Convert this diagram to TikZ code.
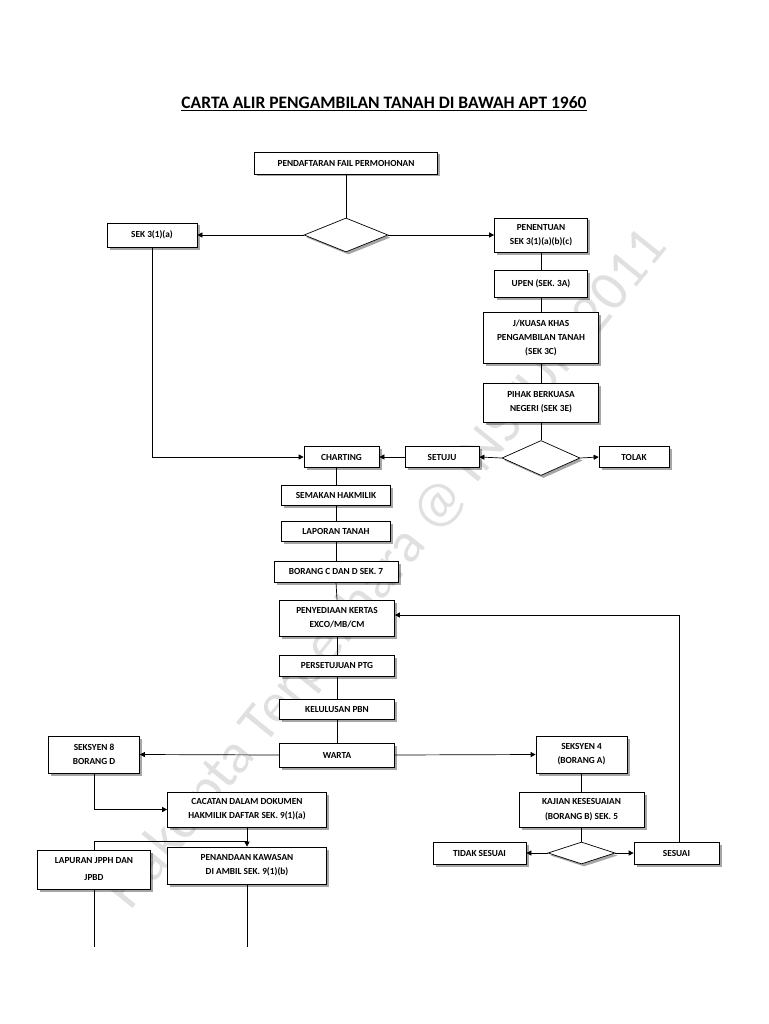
\documentclass[tikz,border=0pt]{standalone}
\usepackage{fontspec}
\setmainfont{Carlito}
\usetikzlibrary{shapes.geometric,shadows,arrows.meta}

\begin{document}
\begin{tikzpicture}[x=1pt, y=-1pt, every text node part/.style={align=center}]
        \tikzset{
          box/.style={draw, line width=0.7pt, fill=white, inner sep=1pt,
            drop shadow={shadow xshift=2.5pt, shadow yshift=-2.5pt, fill=black, opacity=0.35},
            font=\bfseries\fontsize{9.3}{14}\selectfont, minimum height=21pt},
          choice/.style={draw, diamond, line width=0.7pt, fill=white, inner sep=0pt,
            drop shadow={shadow xshift=2.5pt, shadow yshift=-2.5pt, fill=black, opacity=0.35}},
          link/.style={line width=0.7pt},
          arr/.style={line width=0.7pt, -{Triangle[length=5pt,width=5pt]}},
        }
        \useasboundingbox (0,0) rectangle (768,1024);
        % watermark
        \node [rotate=51, text=black!12, font=\fontsize{57}{57}\selectfont] (mark) at (388,570) {Hakcipta Terpelihara @ INSTUN 2011};
        \node [font=\bfseries\fontsize{17.5}{20}\selectfont] (title) at (384,104) {\underline{CARTA ALIR PENGAMBILAN TANAH DI BAWAH APT 1960}};
        % 
        \node [box, minimum width=183pt, minimum height=22pt] (daftar) at (346,163) {PENDAFTARAN FAIL PERMOHONAN};
        \node [choice, minimum width=84pt, minimum height=34pt] (q1) at (346,235) {};
        \node [box, minimum width=90pt, minimum height=24pt] (sek3a) at (152,235) {SEK 3(1)(a)};
        \node [box, minimum width=93pt, minimum height=34pt] (tentu) at (541,235) {PENENTUAN\\SEK 3(1)(a)(b)(c)};
        \node [box, minimum width=93pt, minimum height=27pt] (upen) at (541,283.5) {UPEN (SEK. 3A)};
        \node [box, minimum width=115pt, minimum height=51pt] (jkuasa) at (541,337.5) {J/KUASA KHAS\\PENGAMBILAN TANAH\\(SEK 3C)};
        \node [box, minimum width=115pt, minimum height=39pt] (pbn) at (541,402.5) {PIHAK BERKUASA\\NEGERI (SEK 3E)};
        \draw [link] (daftar.south) -- (q1.north);
        \draw [arr] (q1.west) -- (sek3a.east);
        \draw [arr] (q1.east) -- (tentu.west);
        \draw [link] (tentu.south) -- (upen.north);
        \draw [link] (upen.south) -- (jkuasa.north);
        \draw [link] (jkuasa.south) -- (pbn.north);
        % 
        \node [choice, minimum width=78pt, minimum height=35pt] (q2) at (541,458) {};
        \node [box, minimum width=70pt] (tolak) at (634,457) {TOLAK};
        \node [box, minimum width=74pt] (setuju) at (442,457) {SETUJU};
        \node [box, minimum width=75pt] (chart) at (341.5,457) {CHARTING};
        \draw [link] (pbn.south) -- (q2.north);
        \draw [arr] (q2.east) -- (tolak.west);
        \draw [arr] (q2.west) -- (setuju.east);
        \draw [arr] (setuju.west) -- (chart.east);
        \draw [arr] (sek3a.south) |- (chart.west);
        % 
        \node [box, minimum width=109pt, minimum height=20pt] (semak) at (336,495) {SEMAKAN HAKMILIK};
        \node [box, minimum width=109pt, minimum height=20pt] (lapor) at (336,531) {LAPORAN TANAH};
        \node [box, minimum width=124pt] (borang) at (336,571.5) {BORANG C DAN D SEK. 7};
        \node [box, minimum width=115pt, minimum height=36pt] (sedia) at (337,618) {PENYEDIAAN KERTAS\\EXCO/MB/CM};
        \node [box, minimum width=115pt] (ptg) at (337,665.5) {PERSETUJUAN PTG};
        \node [box, minimum width=115pt, minimum height=20pt] (lulus) at (337,709) {KELULUSAN PBN};
        \node [box, minimum width=115pt, minimum height=24pt] (warta) at (337,755) {WARTA};
        \draw [link] (chart.south -| semak.north) -- (semak.north);
        \draw [link] (semak.south) -- (lapor.north);
        \draw [link] (lapor.south) -- (borang.north);
        \draw [link] (borang.south) -- (sedia.north);
        \draw [link] (sedia.south) -- (ptg.north);
        \draw [link] (ptg.south) -- (lulus.north);
        \draw [link] (lulus.south) -- (warta.north);
        % 
        \node [box, minimum width=91pt, minimum height=37pt] (sek8) at (94,754.5) {SEKSYEN 8\\BORANG D};
        \node [box, minimum width=159pt, minimum height=35pt] (catat) at (247,809.5) {CACATAN DALAM DOKUMEN\\HAKMILIK DAFTAR SEK. 9(1)(a)};
        \node [box, minimum width=113pt, minimum height=39pt] (jpph) at (94,869.5) {LAPURAN JPPH DAN\\[3pt]JPBD};
        \node [box, minimum width=159pt, minimum height=37pt] (tanda) at (247,865.5) {PENANDAAN KAWASAN\\DI AMBIL SEK. 9(1)(b)};
        \coordinate (join) at (247,841);
        \coordinate (endL) at (94,947);
        \coordinate (endR) at (247,947);
        \draw [arr] (warta.west) -- (sek8.east);
        \draw [arr] (sek8.south) |- (catat.west);
        \draw [arr] (catat.south) -- (tanda.north);
        \draw [link] (jpph.north) |- (join);
        \draw [link] (jpph.south) -- (endL);
        \draw [link] (tanda.south) -- (endR);
        % 
        \node [box, minimum width=91pt, minimum height=37pt] (sek4) at (581.5,754.5) {SEKSYEN 4\\(BORANG A)};
        \node [box, minimum width=125pt, minimum height=35pt] (kaji) at (581.5,809.5) {KAJIAN KESESUAIAN\\[1pt](BORANG B) SEK. 5};
        \node [choice, minimum width=67pt, minimum height=22pt] (q3) at (581.5,853) {};
        \node [box, minimum width=93pt, minimum height=22pt] (tidak) at (479.5,853) {TIDAK SESUAI};
        \node [box, minimum width=85pt, minimum height=22pt] (sesuai) at (676.5,853) {SESUAI};
        \draw [arr] (warta.east) -- (sek4.west);
        \draw [link] (sek4.south) -- (kaji.north);
        \draw [link] (kaji.south) -- (q3.north);
        \draw [arr] (q3.west) -- (tidak.east);
        \draw [arr] (q3.east) -- (sesuai.west);
        \draw [arr] ([xshift=3pt]sesuai.north) |- ([yshift=3pt]sedia.east);
    \end{tikzpicture}
\end{document}
